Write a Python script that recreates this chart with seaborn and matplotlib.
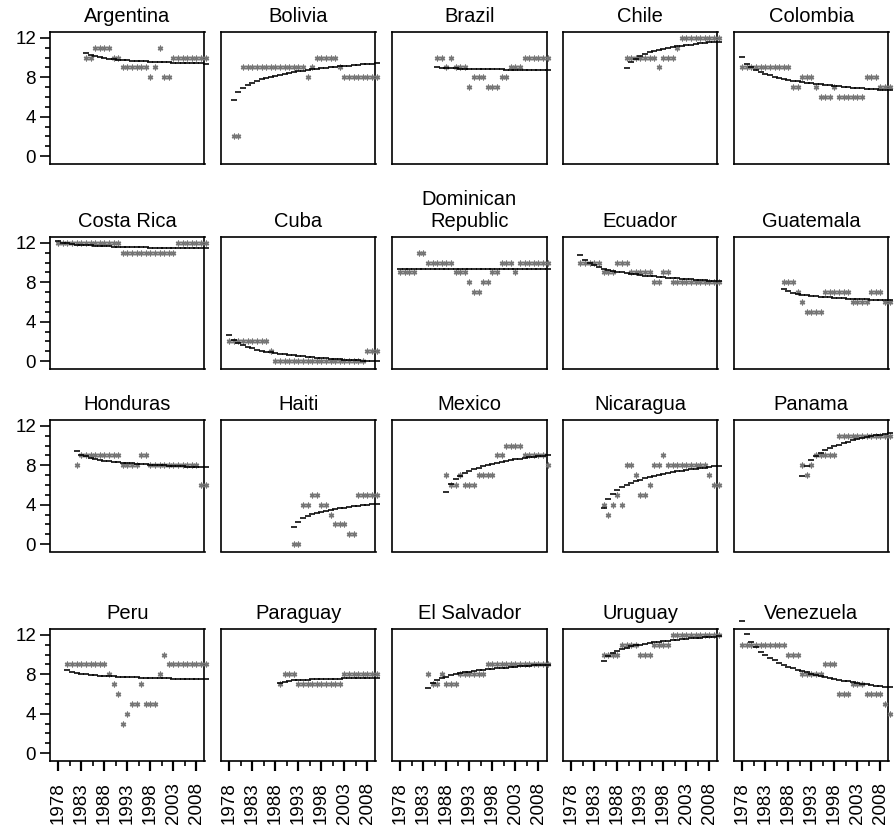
import numpy as np
import pandas as pd
import matplotlib
matplotlib.use("Agg")
import matplotlib.pyplot as plt
import seaborn as sns
from matplotlib.ticker import FixedLocator

# ---------------- data ----------------
countries = ["Argentina", "Bolivia", "Brazil", "Chile", "Colombia",
             "Costa Rica", "Cuba", "Dominican\nRepublic", "Ecuador", "Guatemala",
             "Honduras", "Haiti", "Mexico", "Nicaragua", "Panama",
             "Peru", "Paraguay", "El Salvador", "Uruguay", "Venezuela"]
start_years = [1984, 1979, 1986, 1990, 1978,
               1978, 1978, 1978, 1980, 1987,
               1982, 1992, 1988, 1985, 1991,
               1980, 1989, 1984, 1985, 1978]

argentina = [10, 10, 11, 11, 11, 11, 10, 10, 9, 9, 9, 9, 9, 9, 8, 9, 11, 8, 8,
             10, 10, 10, 10, 10, 10, 10, 10]
bolivia = [2, 2] + [9] * 14 + [8, 9] + [10] * 5 + [9] + [8] * 8
brazil = [10, 10, 9, 10, 9, 9, 9, 7, 8, 8, 8, 7, 7, 7, 8, 8, 9, 9, 9,
          10, 10, 10, 10, 10, 10]
chile = [10] * 7 + [9, 10, 10, 10, 11] + [12] * 9
colombia = [9] * 11 + [7, 7, 8, 8, 8, 7, 6, 6, 6, 7] + [6] * 6 + [8, 8, 8, 7, 7, 7]
costa_rica = [12] * 14 + [11] * 12 + [12] * 7
cuba = [2] * 9 + [1] + [0] * 20 + [1, 1, 1]
dominican_rep = [9, 9, 9, 9, 11, 11] + [10] * 6 + [9, 9, 9, 8, 7, 7, 8, 8, 9, 9,
                                                  10, 10, 10, 9] + [10] * 7
ecuador = [10] * 5 + [9, 9, 9, 10, 10, 10] + [9] * 5 + [8, 8, 9, 9] + [8] * 11
guatemala = [8, 8, 8, 7, 6, 5, 5, 5, 5] + [7] * 6 + [6] * 4 + [7, 7, 7, 6, 6]
honduras = [8] + [9] * 9 + [8] * 4 + [9, 9] + [8] * 11 + [6, 6]
haiti = [0, 0, 4, 4, 5, 5, 4, 4, 3, 2, 2, 2, 1, 1, 5, 5, 5, 5, 5]
mexico = [7, 6, 6, 7, 6, 6, 6, 7, 7, 7, 7, 9, 9, 10, 10, 10, 10, 9, 9, 9, 9, 9, 8]
nicaragua = [4, 3, 4, 5, 4, 8, 8, 7, 5, 5, 6, 8, 8, 9] + [8] * 9 + [7, 6, 6]
panama = [8, 7, 8] + [9] * 5 + [11] * 12
peru = [9] * 9 + [8, 7, 6, 3, 4, 5, 5, 7, 5, 5, 5, 8, 10] + [9] * 9
paraguay = [7, 8, 8, 8] + [7] * 10 + [8] * 8
el_salvador = [8, 7, 7, 8, 7, 7, 7] + [8] * 6 + [9] * 14
uruguay = [10] * 4 + [11] * 4 + [10] * 3 + [11] * 4 + [12] * 11
venezuela = [11] * 10 + [10] * 3 + [8] * 5 + [9] * 3 + [6] * 3 + [7] * 3 + [6] * 4 + [5, 4]

series = [argentina, bolivia, brazil, chile, colombia,
          costa_rica, cuba, dominican_rep, ecuador, guatemala,
          honduras, haiti, mexico, nicaragua, panama,
          peru, paraguay, el_salvador, uruguay, venezuela]

x_ticks = [1978, 1983, 1988, 1993, 1998, 2003, 2008]
y_ticks = [0, 4, 8, 12]

# ------------- growth-curve fit: y ~ log(time), partially pooled -------------
designs, betas, covs = [], [], []
for y0, vals in zip(start_years, series):
    v = np.asarray(vals, dtype=float)
    t = np.log(np.arange(1, len(v) + 1))
    X = np.column_stack([np.ones_like(t), t])
    beta, *_ = np.linalg.lstsq(X, v, rcond=None)
    resid = v - X @ beta
    s2 = max(resid @ resid / (len(v) - 2), 1e-3)
    designs.append(X)
    betas.append(beta)
    covs.append(s2 * np.linalg.inv(X.T @ X))
betas = np.array(betas)
mu = betas.mean(axis=0)
T = np.cov(betas.T) - np.mean(covs, axis=0)
w, U = np.linalg.eigh(T)
T = U @ np.diag(np.clip(w, 1e-3, None)) @ U.T
Ti = np.linalg.inv(T)
fits = []
for X, b, V in zip(designs, betas, covs):
    Vi = np.linalg.inv(V)
    bj = np.linalg.solve(Ti + Vi, Ti @ mu + Vi @ b)
    fits.append(X @ bj)

# ---------------- layout ----------------
sns.set_theme(style="white")
plt.rcParams['font.family'] = ['Liberation Sans', 'DejaVu Sans']

W, H = 895, 832
fig = plt.figure(figsize=(W / 100, H / 100), dpi=100)

col_left = [50, 221, 392, 563, 734]
col_w = 154.5
row_top = [32, 237, 420, 629]
row_h = 131.5

for i, (name, y0, vals, fit) in enumerate(zip(countries, start_years, series, fits)):
    r, c = divmod(i, 5)
    ax = fig.add_axes([col_left[c] / W, 1 - (row_top[r] + row_h) / H,
                       col_w / W, row_h / H])
    years = np.arange(y0, y0 + len(vals))
    df = pd.DataFrame({"year": years, "value": vals, "fit": fit})
    sns.scatterplot(data=df, x="year", y="value", ax=ax, marker=(6, 2, 0),
                    s=11, color="#767676", linewidth=1.0, clip_on=False,
                    zorder=3)
    sns.scatterplot(data=df, x="year", y="fit", ax=ax, marker="_",
                    s=24, color="black", linewidth=1.15, clip_on=False,
                    zorder=4)

    ax.set_xlim(1976.2, 2009.75)
    ax.set_ylim(-0.75, 12.6)
    ax.set_xlabel("")
    ax.set_ylabel("")
    for sp in ax.spines.values():
        sp.set_visible(True)
        sp.set_color("black")
        sp.set_linewidth(1.2)

    ax.set_title(name, fontsize=14.5, pad=7, color="black")

    ax.xaxis.set_major_locator(FixedLocator(x_ticks))
    ax.xaxis.set_minor_locator(FixedLocator([x + 2.5 for x in x_ticks]))
    ax.yaxis.set_major_locator(FixedLocator(y_ticks))
    ax.yaxis.set_minor_locator(FixedLocator(list(range(0, 13))))

    left_col = (c == 0)
    bottom_row = (r == 3)
    ax.tick_params(axis="y", which="major", left=left_col, labelleft=left_col,
                   length=7, width=1.2, direction="out", labelsize=13.5,
                   pad=3, colors="black")
    ax.tick_params(axis="y", which="minor", left=left_col, length=3.5,
                   width=1.2, direction="out", colors="black")
    ax.tick_params(axis="x", which="major", bottom=bottom_row,
                   labelbottom=bottom_row, length=7.5, width=1.6,
                   direction="out", labelsize=13.5, pad=8, colors="black",
                   labelrotation=90)
    ax.tick_params(axis="x", which="minor", bottom=bottom_row, length=3.5,
                   width=1.2, direction="out", colors="black")

fig.savefig("out.png", dpi=100)
